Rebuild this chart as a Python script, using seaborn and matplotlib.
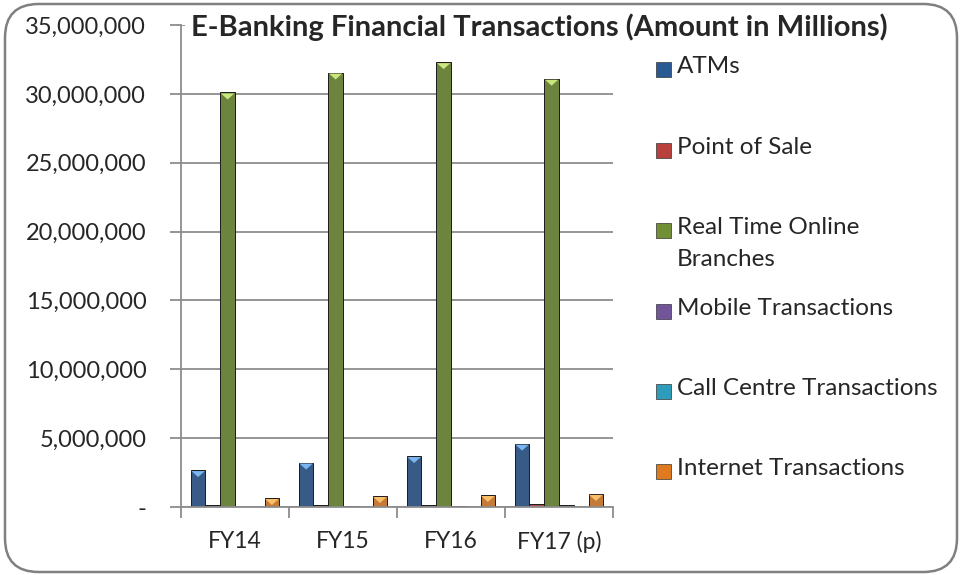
import numpy as np
import pandas as pd
import matplotlib
matplotlib.use("Agg")
import matplotlib.pyplot as plt
import seaborn as sns
from matplotlib.patches import FancyBboxPatch, Polygon, Rectangle
from matplotlib.ticker import FuncFormatter

# data (amount in millions)
years = ["FY14", "FY15", "FY16", "FY17 (p)"]
series = ["ATMs", "Point of Sale", "Real Time Online\nBranches",
          "Mobile Transactions", "Call Centre Transactions", "Internet Transactions"]
atms = [2_680_000, 3_230_000, 3_700_000, 4_600_000]
pos = [110_000, 150_000, 170_000, 240_000]
rtob = [30_100_000, 31_550_000, 32_300_000, 31_100_000]
mobile = [30_000, 80_000, 100_000, 110_000]
call_centre = [15_000, 20_000, 25_000, 30_000]
internet = [650_000, 800_000, 870_000, 950_000]

body = ["#2A5A93", "#B8403D", "#718F34", "#70559A", "#2E9DBB", "#DD7A20"]
cap = ["#7AB6F2", "#F08A86", "#CBE57F", "#B29CD6", "#86D8EE", "#FCC06A"]

df = pd.DataFrame({
    "year": np.repeat(years, len(series)),
    "series": series * len(years),
    "value": np.array([atms, pos, rtob, mobile, call_centre, internet]).T.ravel(),
})

sns.set_theme(style="white")
plt.rcParams["font.family"] = ["Lato", "DejaVu Sans"]

fig = plt.figure(figsize=(9.62, 5.75), dpi=100)
ax = fig.add_axes([181 / 962, 1 - 507 / 575, 432 / 962, 482 / 575])

sns.barplot(data=df, x="year", y="value", hue="series", hue_order=series,
            order=years, palette=body, width=0.82, gap=0, ax=ax,
            edgecolor="#1a1a1a", linewidth=0.7, legend=False)

# bevel caps on top of each bar
ymax = 35_000_000
px = ymax / 482
for i, cont in enumerate(ax.containers):
    for p in cont.patches:
        x0, w, h = p.get_x(), p.get_width(), p.get_height()
        if h < px * 6:
            continue
        depth = min(7.0 * px, h - 1.5 * px)
        ax.add_patch(Polygon([(x0 + w * 0.05, h - 1.0 * px), (x0 + w * 0.95, h - 1.0 * px),
                              (x0 + w * 0.5, h - depth)],
                             closed=True, facecolor=cap[i], edgecolor="none", zorder=5))

ax.set_ylim(0, ymax)
ax.set_xlim(-0.5, len(years) - 0.5)
ax.set_yticks(np.arange(0, ymax + 1, 5_000_000))
ax.yaxis.set_major_formatter(FuncFormatter(lambda v, _: "-" if v == 0 else f"{v:,.0f}"))
ax.grid(axis="y", color="#8C8C8C", linewidth=1.3)
ax.set_axisbelow(True)
for s in ["top", "right"]:
    ax.spines[s].set_visible(False)
for s in ["left", "bottom"]:
    ax.spines[s].set_color("#8C8C8C")
    ax.spines[s].set_linewidth(1.3)
ax.set_xticks(np.arange(-0.5, len(years), 1), minor=True)
ax.tick_params(axis="x", which="major", length=0, labelsize=16.5, pad=17)
ax.tick_params(axis="x", which="minor", length=8, width=1.3, color="#8C8C8C", direction="out", bottom=True)
ax.tick_params(axis="y", length=8, width=1.3, color="#8C8C8C", direction="out", left=True,
               labelsize=17, pad=17)
ax.set_xlabel("")
ax.set_ylabel("")

fig.text(539 / 962, 1 - 27 / 575, "E-Banking Financial Transactions (Amount in Millions)",
         ha="center", va="center", fontsize=21, fontweight="bold",
         bbox=dict(facecolor="white", edgecolor="none", pad=4))

# legend on the right
leg_y = [69, 150, 230, 311, 391, 471]
for i, (lab, y) in enumerate(zip(series, leg_y)):
    fig.patches.append(Rectangle((656 / 962, 1 - (y + 7.5) / 575), 15 / 962, 15 / 575,
                                 transform=fig.transFigure, facecolor=body[i],
                                 edgecolor="#333333", linewidth=0.5))
    fig.text(677 / 962, 1 - (y - 13) / 575, lab, ha="left", va="top",
             fontsize=17.5, linespacing=1.65)

fig.patches.append(FancyBboxPatch((5 / 962, 3 / 575), 952 / 962, 568 / 575,
                                  boxstyle="round,pad=0,rounding_size=0.035",
                                  transform=fig.transFigure, facecolor="none",
                                  edgecolor="#808080", linewidth=1.8,
                                  mutation_aspect=962 / 575))

fig.savefig("out.png", dpi=100)
